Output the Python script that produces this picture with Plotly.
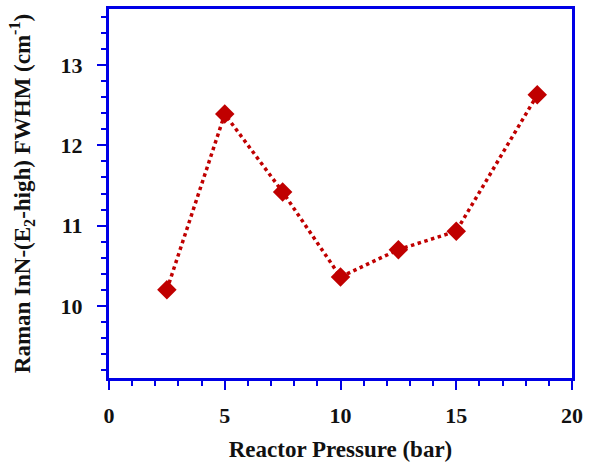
import plotly.graph_objects as go

pressure = [2.5, 5, 7.5, 10, 12.5, 15, 18.5]
fwhm = [10.20, 12.39, 11.42, 10.36, 10.70, 10.93, 12.63]

x_ticks = [0, 5, 10, 15, 20]
y_ticks = [10, 11, 12, 13]

red = "#C00000"
blue = "#0000E6"
font = "Liberation Serif"
txt = "#111111"

fig = go.Figure()
fig.add_trace(go.Scatter(
    x=pressure, y=fwhm, mode="lines+markers",
    line=dict(color=red, width=3.5, dash="dot"),
    marker=dict(symbol="diamond", size=15, color=red),
    showlegend=False,
))

fig.update_layout(
    width=589, height=465,
    margin=dict(l=109, r=13, t=6, b=87),
    plot_bgcolor="white", paper_bgcolor="white",
    font=dict(family=font, color=txt),
)
fig.update_xaxes(
    range=[0, 20], tickvals=x_ticks, ticktext=[f"<b>{v}</b>" for v in x_ticks],
    showgrid=False, zeroline=False,
    showline=True, linecolor=blue, linewidth=3, mirror=True,
    ticks="outside", ticklen=9, tickwidth=2, tickcolor=blue,
    minor=dict(dtick=1, ticks="outside", ticklen=5, tickwidth=2, tickcolor=blue, showgrid=False),
    tickfont=dict(family=font, size=22, color=txt, weight=700),
    ticklabelstandoff=7,
    title=dict(text="<b>Reactor Pressure (bar)</b>", font=dict(family=font, size=23, color=txt), standoff=14),
)
fig.update_yaxes(
    range=[9.1, 13.7], tickvals=y_ticks, ticktext=[f"<b>{v}</b>" for v in y_ticks],
    showgrid=False, zeroline=False,
    showline=True, linecolor=blue, linewidth=3, mirror=True,
    ticks="outside", ticklen=9, tickwidth=2, tickcolor=blue,
    minor=dict(dtick=0.2, tick0=0, ticks="outside", ticklen=5, tickwidth=2, tickcolor=blue, showgrid=False),
    tickfont=dict(family=font, size=22, color=txt, weight=700),
    ticklabelstandoff=10,
    title=dict(text="<b>Raman InN-(E<sub>2</sub>-high) FWHM (cm<sup>-1</sup>)</b>", font=dict(family=font, size=23, color=txt), standoff=24),
)

fig.write_html("out.html")
